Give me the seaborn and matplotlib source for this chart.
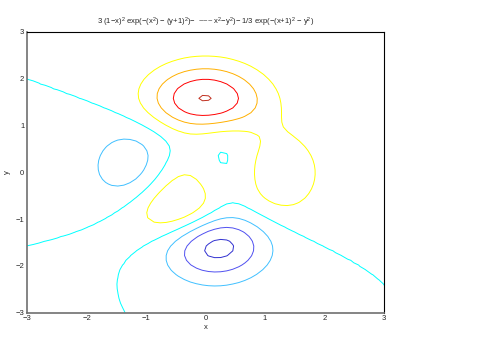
import numpy as np
import matplotlib
matplotlib.use("Agg")
import matplotlib.pyplot as plt
import seaborn as sns

# grid (ezcontour default: 60 points per axis over [-3, 3])
x_vals = np.linspace(-3, 3, 60)
y_vals = np.linspace(-3, 3, 60)
levels = [-6, -4, -2, 0, 2, 4, 6, 8]
level_colors = ["#3030d0", "#5050f0", "#40c0ff", "#00ffff",
                "#ffff00", "#ffb000", "#ff0000", "#c03020"]
x_ticks = [-3, -2, -1, 0, 1, 2, 3]
y_ticks = [-3, -2, -1, 0, 1, 2, 3]

# the function named in the title (MATLAB peaks)
X, Y = np.meshgrid(x_vals, y_vals)
Z = (3 * (1 - X) ** 2 * np.exp(-X ** 2 - (Y + 1) ** 2)
     - 10 * (X / 5 - X ** 3 - Y ** 5) * np.exp(-X ** 2 - Y ** 2)
     - 1 / 3 * np.exp(-(X + 1) ** 2 - Y ** 2))

sns.set_style("white")
plt.rcParams['font.family'] = ['Liberation Sans', 'DejaVu Sans']
plt.rcParams['mathtext.fontset'] = 'custom'
plt.rcParams['mathtext.rm'] = 'Liberation Sans'
plt.rcParams['mathtext.it'] = 'Liberation Sans'
plt.rcParams['mathtext.default'] = 'regular'

fig = plt.figure(figsize=(4.8, 3.39), dpi=100)
ax = fig.add_axes([0.0563, 0.0776, 0.7437, 0.8289])
ax.contour(X, Y, Z, levels=levels, colors=level_colors, linewidths=0.7)

ax.set_xlim(-3, 3)
ax.set_ylim(-3, 3)
ax.set_xticks(x_ticks)
ax.set_yticks(y_ticks)
ax.set_xticklabels([str(v).replace("-", "\u2212") for v in x_ticks])
ax.set_yticklabels([str(v).replace("-", "\u2212") for v in y_ticks])
ax.tick_params(direction="in", length=3, width=0.6, labelsize=5.5, pad=2,
               color="#808080", top=False, right=False)
for side in ["top", "right"]:
    ax.spines[side].set_color("black")
    ax.spines[side].set_linewidth(0.8)
for side in ["left", "bottom"]:
    ax.spines[side].set_color("#707070")
    ax.spines[side].set_linewidth(1.2)

ax.set_xlabel("x", fontsize=5.5, labelpad=1)
ax.set_ylabel("y", fontsize=5.5, labelpad=3)
ax.set_title(r"3 (1$-$x)$^2$ exp($-$(x$^2$) $-$ (y+1)$^2$)$-$  ~~~ x$^2$$-$y$^2$)$-$ 1/3 exp($-$(x+1)$^2$ $-$ y$^2$)",
             fontsize=5.5, pad=5)

fig.savefig("out.png", dpi=100)
